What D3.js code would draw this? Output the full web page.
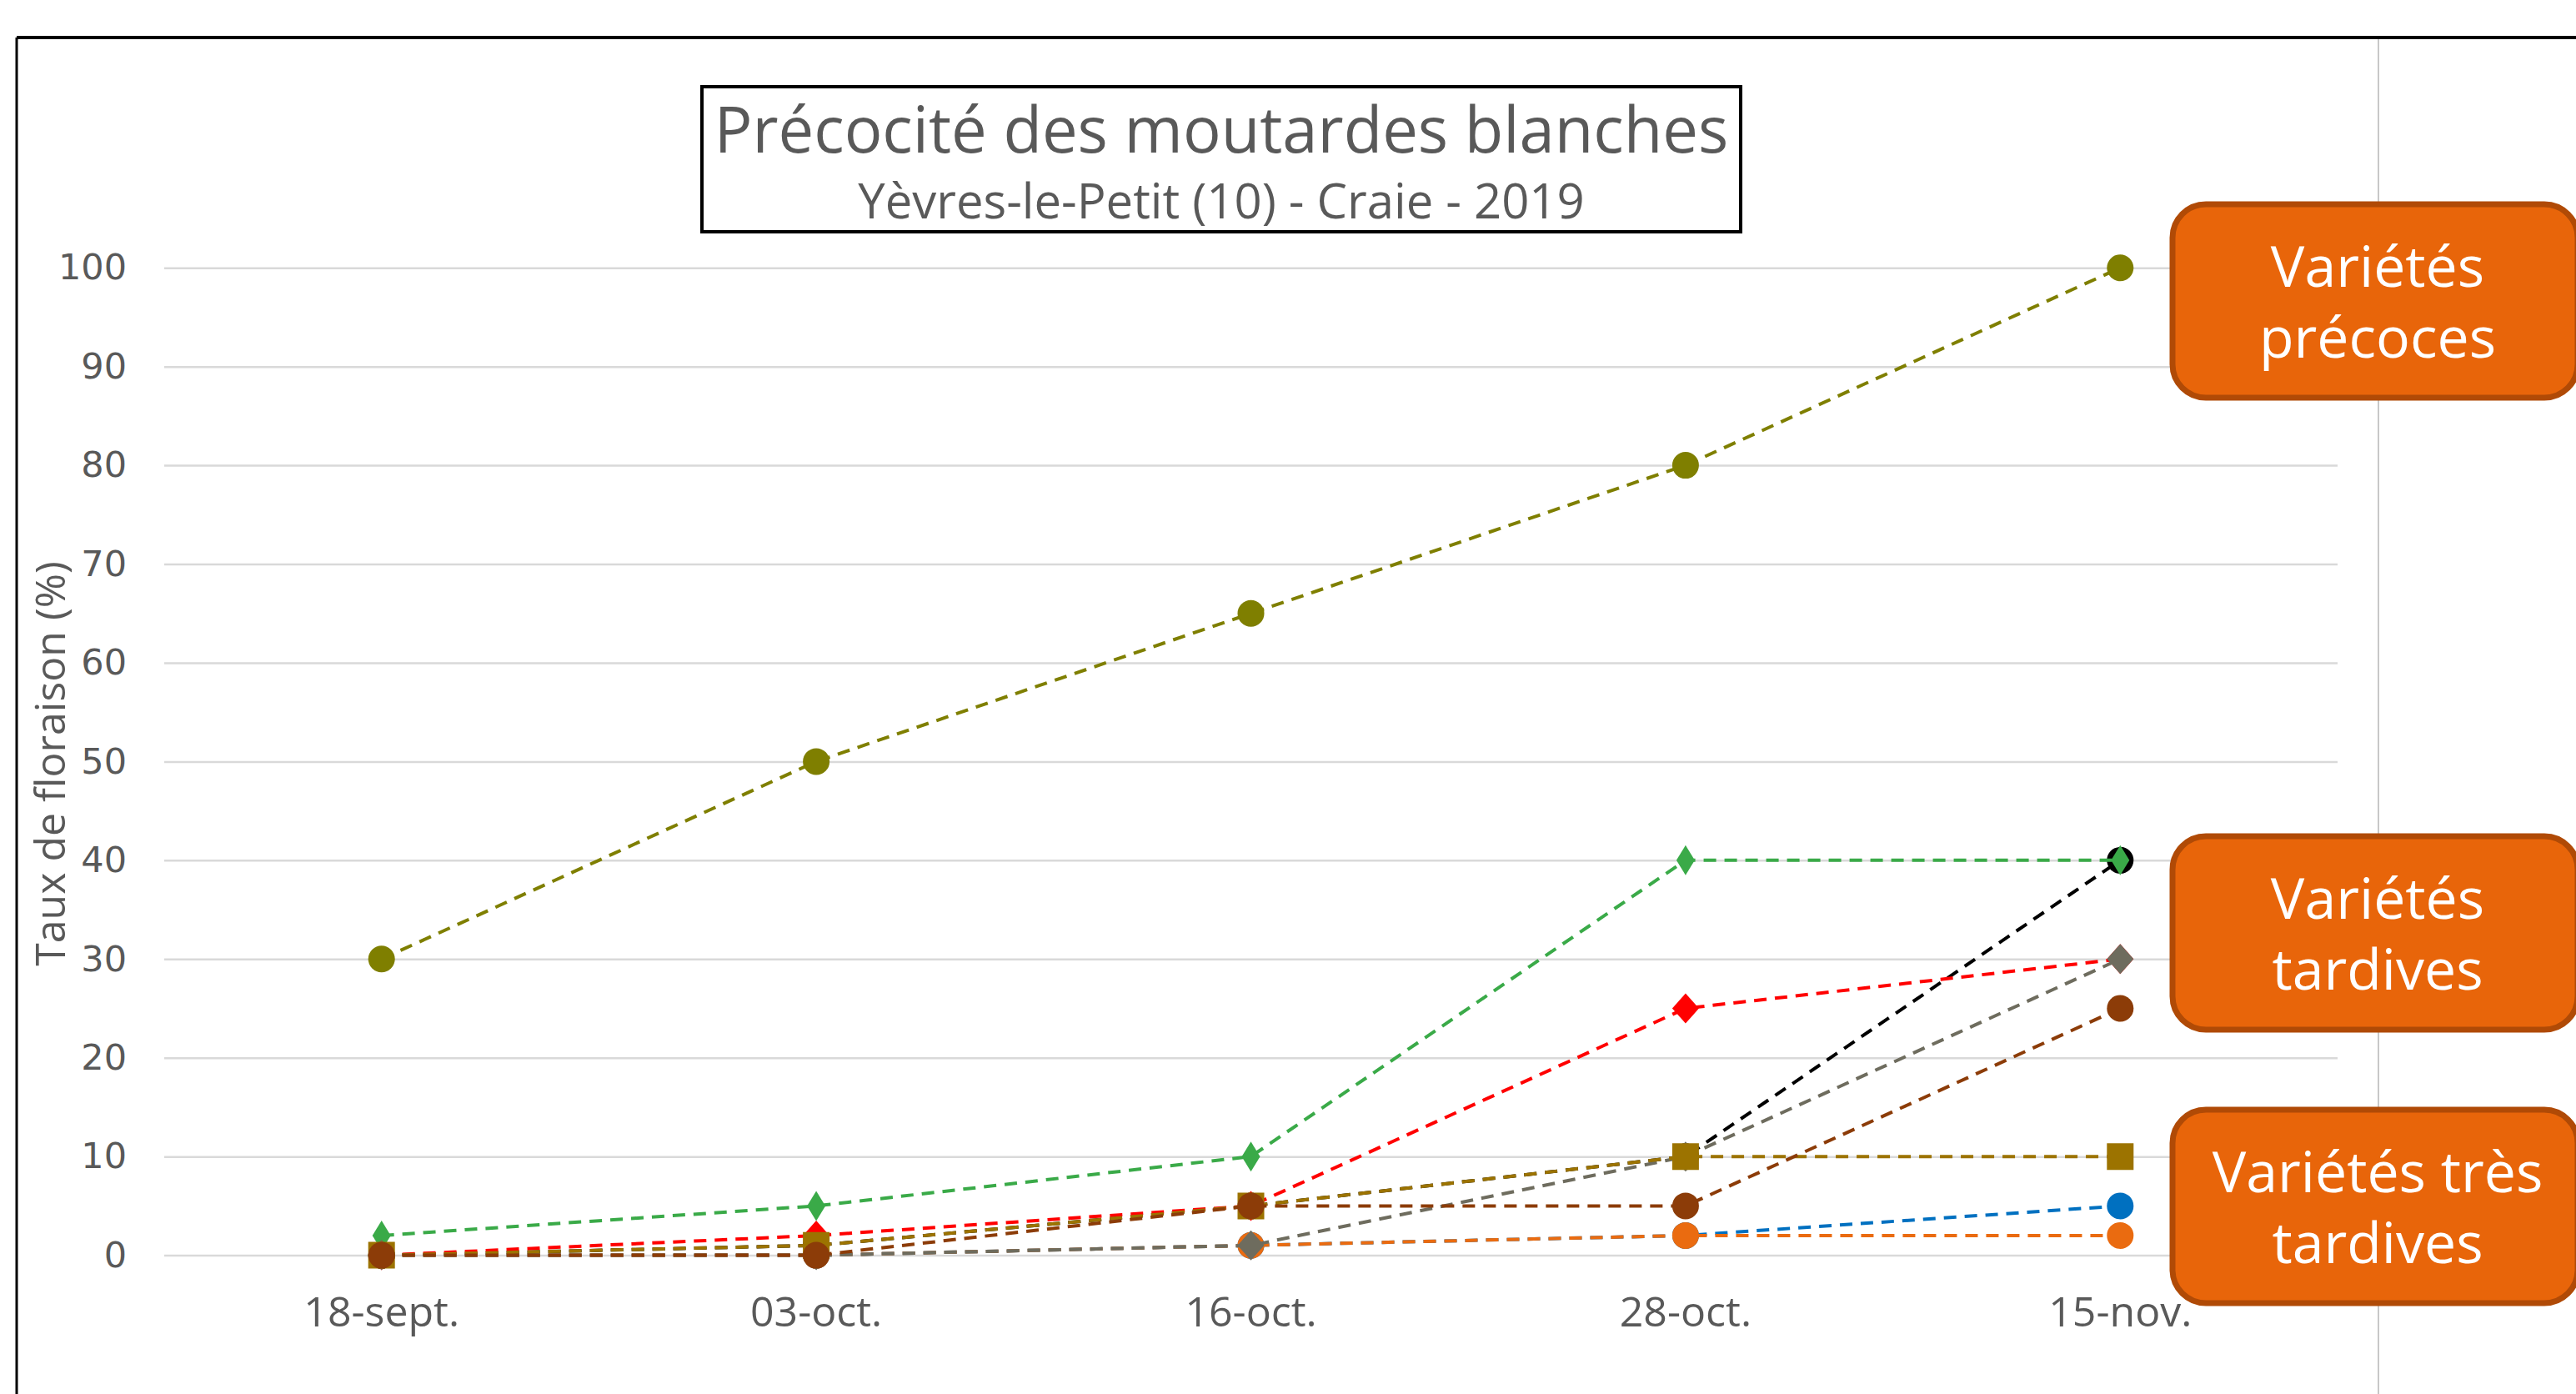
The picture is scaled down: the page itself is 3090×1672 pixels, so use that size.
<!DOCTYPE html>
<html>
<head>
<meta charset="utf-8">
<script src="https://cdn.jsdelivr.net/npm/d3@7"></script>
<style>
body { margin: 0; background: #fff; }
</style>
</head>
<body>
<svg id="chart"></svg>
<script>
// dates of observation
var dates = ["18-sept.", "03-oct.", "16-oct.", "28-oct.", "15-nov."];
var yTicks = [0, 10, 20, 30, 40, 50, 60, 70, 80, 90, 100];

// flowering rate (%) per variety
var oliveVals  = [30, 50, 65, 80, 100];
var greenVals  = [2, 5, 10, 40, 40];
var redVals    = [0, 2, 5, 25, 30];
var blackVals  = [0, 1, 5, 10, 40];
var greyVals   = [0, 0, 1, 10, 30];
var goldVals   = [0, 1, 5, 10, 10];
var brownVals  = [0, 0, 5, 5, 25];
var blueVals   = [0, 0, 1, 2, 5];
var orangeVals = [0, 0, 1, 2, 2];

var calloutLabels = [["Variétés", "précoces"], ["Variétés", "tardives"], ["Variétés très", "tardives"]];

// drawing order, bottom to top
var series = [
	{ values: blueVals,   color: "#0070C0", marker: "circle" },
	{ values: orangeVals, color: "#EA6B10", marker: "circle" },
	{ values: blackVals,  color: "#000000", marker: "circle" },
	{ values: greenVals,  color: "#3AAA48", marker: "thinDiamond" },
	{ values: redVals,    color: "#FF0000", marker: "diamond" },
	{ values: greyVals,   color: "#6E6C5E", marker: "diamond" },
	{ values: goldVals,   color: "#9C7300", marker: "square" },
	{ values: brownVals,  color: "#8C3C08", marker: "circle" },
	{ values: oliveVals,  color: "#7F7F00", marker: "circle" }
];

var W = 3090, H = 1672;
var svg = d3.select('#chart').attr('width', W).attr('height', H);
svg.append('rect').attr('width', W).attr('height', H).attr('fill', '#fff');

// frame lines
svg.append('line').attr('x1', 20).attr('y1', 45).attr('x2', W).attr('y2', 45)
	.attr('stroke', '#000').attr('stroke-width', 4);
svg.append('line').attr('x1', 20).attr('y1', 45).attr('x2', 20).attr('y2', H)
	.attr('stroke', '#000').attr('stroke-width', 3);
svg.append('line').attr('x1', 2853).attr('y1', 47).attr('x2', 2853).attr('y2', H)
	.attr('stroke', '#c8c8c8').attr('stroke-width', 2);

var x = d3.scaleBand().domain(dates).range([197, 2804]);
var y = d3.scaleLinear().domain([0, 100]).range([1505.6, 321.2]);
var cx = function(d) { return x(d) + x.bandwidth() / 2; };

/**
 * ------------------------------------------------------------
 * Axes
 */
var gy = svg.append('g').attr('transform', 'translate(197,0)')
	.call(d3.axisLeft(y).tickValues(yTicks).tickSize(-2607).tickPadding(45));
gy.select('.domain').remove();
gy.selectAll('.tick line').attr('stroke', '#d9d9d9').attr('stroke-width', 2.5);
gy.selectAll('.tick text').attr('fill', '#595959')
	.style('font-family', '"DejaVu Sans", sans-serif').style('font-size', '43px');

var gx = svg.append('g').attr('transform', 'translate(0,1505.6)')
	.call(d3.axisBottom(x).tickSize(0).tickPadding(50));
gx.select('.domain').remove();
gx.selectAll('.tick text').attr('fill', '#595959')
	.style('font-family', '"Open Sans", sans-serif').style('font-size', '50px');

svg.append('text')
	.attr('transform', 'translate(78,916) rotate(-90)')
	.attr('text-anchor', 'middle')
	.attr('fill', '#595959')
	.style('font-family', '"Open Sans", sans-serif').style('font-size', '50px')
	.text('Taux de floraison (%)');

/**
 * ------------------------------------------------------------
 * Series
 */
function markerPath(type) {
	if (type === 'circle') return 'M-16,0A16,16 0 1,0 16,0A16,16 0 1,0 -16,0Z';
	if (type === 'square') return 'M-16,-16H16V16H-16Z';
	if (type === 'diamond') return 'M0,-18L16,0L0,18L-16,0Z';
	return 'M0,-18L11,0L0,18L-11,0Z';
}

var line = d3.line()
	.x(function(d, i) { return cx(dates[i]); })
	.y(function(d) { return y(d); });

series.forEach(function(s) {
	svg.append('path')
		.attr('d', line(s.values))
		.attr('fill', 'none')
		.attr('stroke', s.color)
		.attr('stroke-width', 4)
		.attr('stroke-dasharray', '15,10');
	svg.append('g').selectAll('path')
		.data(s.values)
		.enter().append('path')
		.attr('transform', function(d, i) { return 'translate(' + cx(dates[i]) + ',' + y(d) + ')'; })
		.attr('d', markerPath(s.marker))
		.attr('fill', s.color);
});

/**
 * ------------------------------------------------------------
 * Title box
 */
svg.append('rect').attr('x', 842).attr('y', 104).attr('width', 1246).attr('height', 174)
	.attr('fill', '#fff').attr('stroke', '#000').attr('stroke-width', 4);
svg.append('text').attr('x', 1465).attr('y', 183).attr('text-anchor', 'middle')
	.attr('fill', '#595959').style('font-family', '"Open Sans", sans-serif').style('font-size', '76px')
	.text('Précocité des moutardes blanches');
svg.append('text').attr('x', 1465).attr('y', 262).attr('text-anchor', 'middle')
	.attr('fill', '#595959').style('font-family', '"Open Sans", sans-serif').style('font-size', '58px')
	.text('Yèvres-le-Petit (10) - Craie - 2019');

/**
 * ------------------------------------------------------------
 * Callouts
 */
var calloutTops = [245, 1003, 1331];
var calloutHeight = 232;
calloutLabels.forEach(function(lines, k) {
	var top = calloutTops[k];
	svg.append('rect').attr('x', 2606).attr('y', top).attr('width', 486).attr('height', calloutHeight)
		.attr('rx', 40).attr('ry', 40)
		.attr('fill', '#E8650A').attr('stroke', '#B04A06').attr('stroke-width', 7);
	lines.forEach(function(t, j) {
		svg.append('text').attr('x', 2852).attr('y', top + 99 + j * 85)
			.attr('text-anchor', 'middle').attr('fill', '#fff')
			.style('font-family', '"Open Sans", sans-serif').style('font-size', '68px')
			.text(t);
	});
});
</script>
</body>
</html>
